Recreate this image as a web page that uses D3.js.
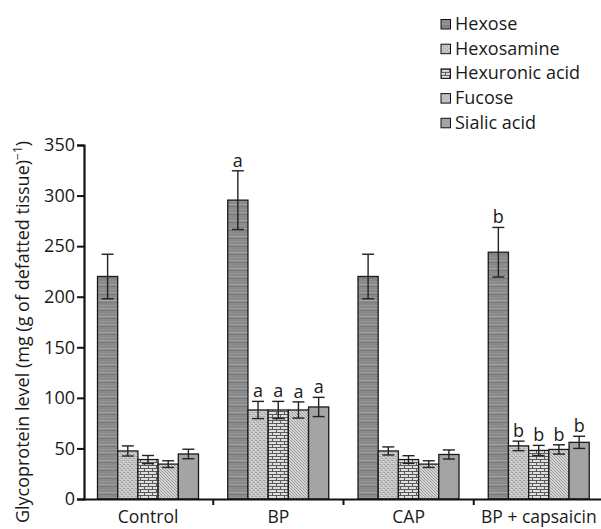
<!DOCTYPE html>
<html>
<head>
<meta charset="utf-8">
<script src="https://cdn.jsdelivr.net/npm/d3@7"></script>
<style>
  html, body { margin: 0; padding: 0; background: #fff; }
  svg { display: block; }
  text { font-family: "Open Sans", "Noto Sans", sans-serif; fill: #1a1a1a; }
</style>
</head>
<body>
<div id="chart"></div>
<script>
// ---- data ----
const categories = ["Control", "BP", "CAP", "BP + capsaicin"];
const seriesNames = ["Hexose", "Hexosamine", "Hexuronic acid", "Fucose", "Sialic acid"];
const hexose = [220, 295.5, 220, 244];
const hexoseErr = [22, 29, 22, 24.5];
const hexosamine = [47.5, 88, 47.5, 52.5];
const hexosamineErr = [5, 8.5, 4, 4.7];
const hexuronic = [39, 88, 39, 48];
const hexuronicErr = [4, 8.5, 3.8, 5];
const fucose = [34.5, 88, 34.5, 49];
const fucoseErr = [3.3, 8, 3.3, 4.6];
const sialic = [44.5, 91, 44, 56];
const sialicErr = [4.7, 9.5, 4.5, 6];
const groupLetters = [null, "a", null, "b"];
const yTicks = [0, 50, 100, 150, 200, 250, 300, 350];

const seriesValues = [hexose, hexosamine, hexuronic, fucose, sialic];
const seriesErrors = [hexoseErr, hexosamineErr, hexuronicErr, fucoseErr, sialicErr];
const patternIds = ["p-hexose", "p-hexosamine", "p-hexuronic", "p-fucose", "p-sialic"];

const W = 601, H = 529;
const svg = d3.select("#chart").append("svg").attr("width", W).attr("height", H);
const defs = svg.append("defs");

// Hexose: dark grey with horizontal stripes
{
  const p = defs.append("pattern").attr("id", "p-hexose").attr("patternUnits", "userSpaceOnUse")
    .attr("width", 20).attr("height", 16);
  p.append("rect").attr("width", 20).attr("height", 16).attr("fill", "#888888");
  const stripes = [[1, "#969696"], [4, "#a0a0a0"], [6, "#7c7c7c"], [9, "#939393"], [12, "#a6a6a6"], [14, "#7f7f7f"]];
  stripes.forEach(([y, c]) => p.append("rect").attr("x", 0).attr("y", y).attr("width", 20).attr("height", 1).attr("fill", c));
}
// Hexosamine: light speckled
{
  const p = defs.append("pattern").attr("id", "p-hexosamine").attr("patternUnits", "userSpaceOnUse")
    .attr("width", 4).attr("height", 4);
  p.append("rect").attr("width", 4).attr("height", 4).attr("fill", "#c6c6c6");
  [[0, 0], [2, 2], [3, 0], [1, 2]].forEach(([x, y]) => p.append("rect").attr("x", x).attr("y", y).attr("width", 1).attr("height", 1).attr("fill", "#a2a2a2"));
  [[1, 3], [3, 1]].forEach(([x, y]) => p.append("rect").attr("x", x).attr("y", y).attr("width", 1).attr("height", 1).attr("fill", "#e2e2e2"));
}
// Hexuronic acid: brick
{
  const p = defs.append("pattern").attr("id", "p-hexuronic").attr("patternUnits", "userSpaceOnUse")
    .attr("width", 8).attr("height", 6);
  p.append("rect").attr("width", 8).attr("height", 6).attr("fill", "#dedede");
  p.append("path").attr("d", "M0,0.5H8M0,3.5H8M0.5,0.5V3.5M4.5,3.5V6.5")
    .attr("stroke", "#5a5a5a").attr("stroke-width", 1).attr("fill", "none");
}
// Fucose: fine diagonal hatch
{
  const p = defs.append("pattern").attr("id", "p-fucose").attr("patternUnits", "userSpaceOnUse")
    .attr("width", 3).attr("height", 3);
  p.append("rect").attr("width", 3).attr("height", 3).attr("fill", "#d4d4d4");
  p.append("path").attr("d", "M-1,-1L4,4M-1,2L1,4M2,-1L4,1")
    .attr("stroke", "#8c8c8c").attr("stroke-width", 0.8).attr("fill", "none");
}
// Sialic acid: solid grey
{
  const p = defs.append("pattern").attr("id", "p-sialic").attr("patternUnits", "userSpaceOnUse")
    .attr("width", 4).attr("height", 4);
  p.append("rect").attr("width", 4).attr("height", 4).attr("fill", "#a4a4a4");
}

// ---- scales ----
const x0 = d3.scaleBand().domain(categories).range([83, 604]).paddingInner(0).paddingOuter(0);
const x1 = d3.scaleBand().domain(seriesNames).range([14.5, 115.5]).padding(0);
const y = d3.scaleLinear().domain([0, 350]).range([499, 145]);

// ---- bars ----
const barData = [];
categories.forEach((c, ci) => {
  seriesNames.forEach((s, si) => {
    barData.push({ c, ci, s, si, v: seriesValues[si][ci], e: seriesErrors[si][ci] });
  });
});

const g = svg.append("g");
g.selectAll("rect.bar").data(barData).enter().append("rect")
  .attr("class", "bar")
  .attr("x", d => x0(d.c) + x1(d.s))
  .attr("y", d => y(d.v))
  .attr("width", x1.bandwidth())
  .attr("height", d => y(0) - y(d.v))
  .attr("fill", d => `url(#${patternIds[d.si]})`)
  .attr("stroke", "#1a1a1a")
  .attr("stroke-width", 1.3);

// error bars
const eb = g.selectAll("g.err").data(barData).enter().append("g").attr("class", "err")
  .attr("transform", d => `translate(${x0(d.c) + x1(d.s) + x1.bandwidth() / 2},0)`);
eb.append("line").attr("x1", 0).attr("x2", 0)
  .attr("y1", d => y(d.v + d.e)).attr("y2", d => y(d.v - d.e))
  .attr("stroke", "#222").attr("stroke-width", 1.4);
eb.append("line").attr("x1", -6).attr("x2", 6)
  .attr("y1", d => y(d.v + d.e)).attr("y2", d => y(d.v + d.e))
  .attr("stroke", "#222").attr("stroke-width", 1.4);
eb.append("line").attr("x1", -6).attr("x2", 6)
  .attr("y1", d => y(d.v - d.e)).attr("y2", d => y(d.v - d.e))
  .attr("stroke", "#222").attr("stroke-width", 1.4);

// significance letters
g.selectAll("text.sig").data(barData.filter(d => groupLetters[d.ci])).enter().append("text")
  .attr("class", "sig")
  .attr("x", d => x0(d.c) + x1(d.s) + x1.bandwidth() / 2)
  .attr("y", d => y(d.v + d.e) - 4)
  .attr("text-anchor", "middle")
  .attr("font-size", 18)
  .text(d => groupLetters[d.ci]);

// ---- axes ----
const yAxis = d3.axisLeft(y).tickValues(yTicks).tickSize(7).tickPadding(2);
const ya = svg.append("g").attr("transform", "translate(84,0)").call(yAxis);
ya.select(".domain").attr("stroke", "#111").attr("stroke-width", 2.2);
ya.selectAll(".tick line").attr("stroke", "#111").attr("stroke-width", 2);
ya.selectAll(".tick text").attr("font-size", 18).attr("font-family", "Open Sans, sans-serif").attr("fill", "#1a1a1a");

const xAxis = d3.axisBottom(x0).tickSize(0).tickPadding(12);
const xa = svg.append("g").attr("transform", "translate(0,499)").call(xAxis);
xa.select(".domain").attr("stroke", "#111").attr("stroke-width", 2.2);
xa.selectAll(".tick text").attr("font-size", 17.5).attr("font-family", "Open Sans, sans-serif").attr("fill", "#1a1a1a");
// boundary tick marks between groups
xa.selectAll("line.sep").data(categories.slice(1)).enter().append("line")
  .attr("class", "sep")
  .attr("x1", d => x0(d)).attr("x2", d => x0(d))
  .attr("y1", 0).attr("y2", 6)
  .attr("stroke", "#111").attr("stroke-width", 2);

// y label
const yl = svg.append("text")
  .attr("transform", "translate(29,332) rotate(-90)")
  .attr("text-anchor", "middle")
  .attr("font-size", 18);
yl.append("tspan").text("Glycoprotein level (mg (g of defatted tissue)");
yl.append("tspan").attr("font-size", 12).attr("dy", -7).text("\u22121");
yl.append("tspan").attr("dy", 7).text(")");

// ---- legend ----
const legend = svg.append("g");
const li = legend.selectAll("g").data(seriesNames).enter().append("g")
  .attr("transform", (d, i) => `translate(441,${19.5 + i * 24.7})`);
li.append("rect").attr("width", 9.5).attr("height", 9.5)
  .attr("fill", (d, i) => `url(#${patternIds[i]})`)
  .attr("stroke", "#111").attr("stroke-width", 1);
li.append("text").attr("x", 14).attr("y", 10.5).attr("font-size", 18).text(d => d);
</script>
</body>
</html>
